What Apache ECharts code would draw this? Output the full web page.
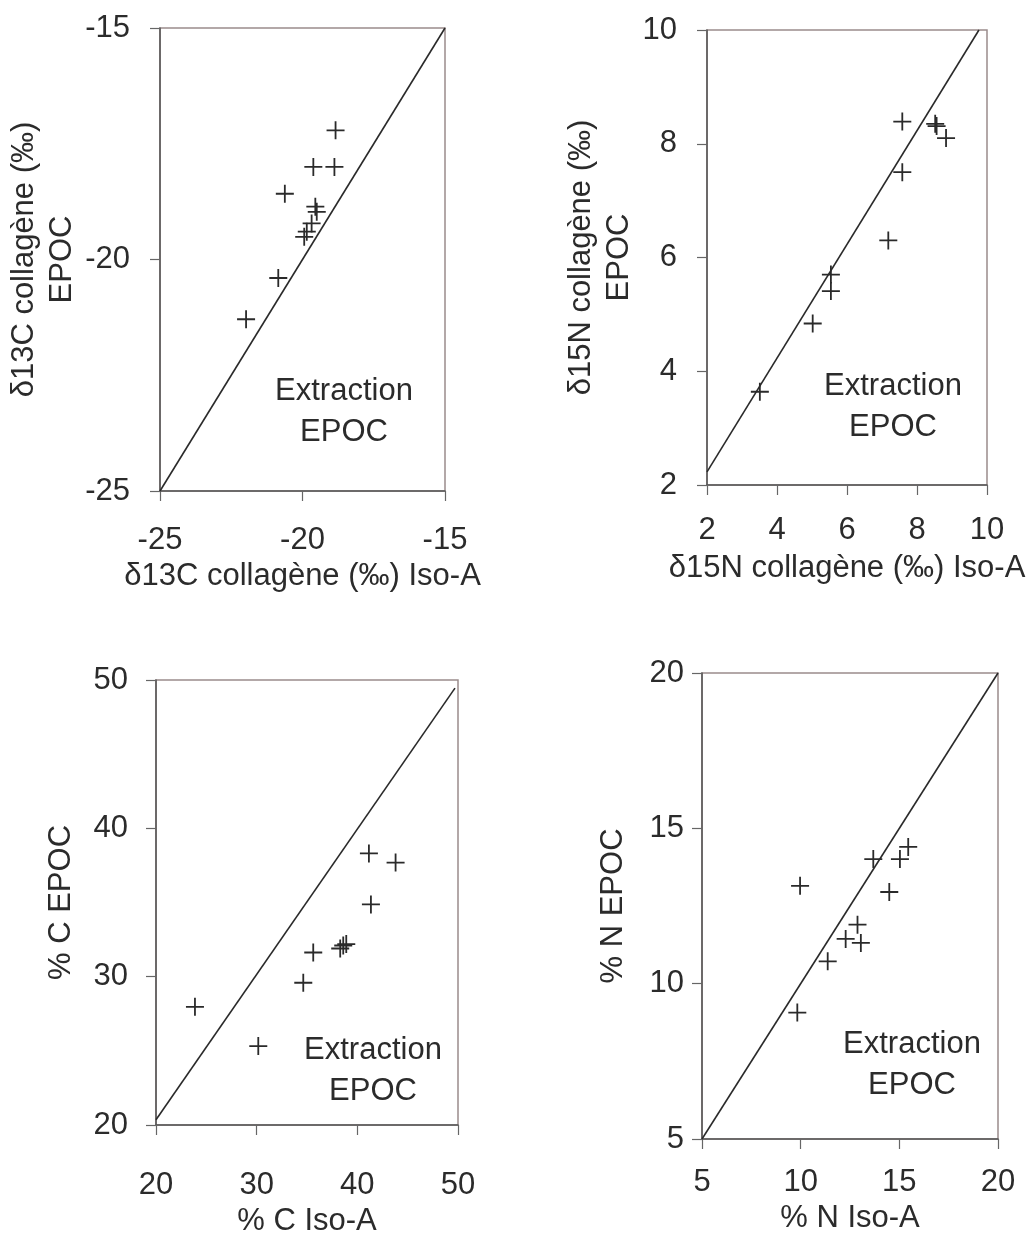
<!DOCTYPE html>
<html>
<head>
<meta charset="utf-8">
<script src="https://cdn.jsdelivr.net/npm/echarts@6/dist/echarts.min.js"></script>
<style>
html,body{margin:0;padding:0;background:#fff;}
#chart{width:1032px;height:1241px;}
</style>
</head>
<body>
<div id="chart"></div>
<script>
// ---------- DATA ----------
// Panel 1 : δ13C (‰)
var d13C_ticks = [-25, -20, -15];
var d13C_isoA = [-18.84, -19.62, -18.88, -20.62, -19.55, -19.50, -19.68, -19.85, -19.94, -20.85, -21.98];
var d13C_epoc = [-17.21, -18.00, -18.00, -18.58, -18.86, -18.97, -19.22, -19.40, -19.51, -20.40, -21.29];
var d13C_line = [[-25, -25], [-15, -15]];

// Panel 2 : δ15N (‰)
var d15N_ticks = [2, 4, 6, 8, 10];
var d15N_isoA = [7.58, 8.52, 8.56, 8.83, 7.58, 7.18, 5.54, 5.54, 5.02, 3.51];
var d15N_epoc = [8.39, 8.35, 8.31, 8.10, 7.50, 6.30, 5.70, 5.41, 4.84, 3.64];
var d15N_line = [[2, 2.23], [9.77, 10]];

// Panel 3 : % C
var pctC_ticks = [20, 30, 40, 50];
var pctC_isoA = [23.87, 30.16, 34.63, 35.62, 38.3, 38.6, 38.9, 41.15, 43.8, 41.35];
var pctC_epoc = [27.97, 25.32, 29.59, 31.63, 31.9, 32.1, 32.2, 38.31, 37.69, 34.87];
var pctC_line = [[20, 20.35], [49.7, 49.45]];

// Panel 4 : % N
var pctN_ticks = [5, 10, 15, 20];
var pctN_isoA = [9.97, 9.83, 11.37, 12.28, 12.88, 13.05, 13.68, 14.49, 15.03, 15.45];
var pctN_epoc = [13.15, 9.07, 10.72, 11.44, 11.90, 11.31, 14.01, 12.95, 14.01, 14.40];
var pctN_line = [[5, 5], [20, 20]];

var xNames = ['δ13C collagène (‰) Iso-A', 'δ15N collagène (‰) Iso-A', '% C Iso-A', '% N Iso-A'];
var yNames = ['δ13C collagène (‰)\nEPOC', 'δ15N collagène (‰)\nEPOC', '% C EPOC', '% N EPOC'];
var annotation = 'Extraction\nEPOC';

// ---------- LAYOUT ----------
var FONT = '"Liberation Sans", Arial, Helvetica, sans-serif';
var FS = 31;
var TXT = '#2b2b2b';
var panels = [
  {ticks: d13C_ticks, xs: d13C_isoA, ys: d13C_epoc, line: d13C_line,
   grid: {left: 160, top: 28, width: 285, height: 463},
   xMargin: 34, yMargin: 30, xGap: 66, yGap: 70, ann: [344, 412]},
  {ticks: d15N_ticks, xs: d15N_isoA, ys: d15N_epoc, line: d15N_line,
   grid: {left: 707, top: 30, width: 280, height: 455},
   xMargin: 30, yMargin: 30, xGap: 64, yGap: 64, ann: [893, 407]},
  {ticks: pctC_ticks, xs: pctC_isoA, ys: pctC_epoc, line: pctC_line,
   grid: {left: 156, top: 680, width: 302, height: 457},
   xMargin: 45, yMargin: 28, xGap: 77, yGap: 76, ann: [373, 1071]},
  {ticks: pctN_ticks, xs: pctN_isoA, ys: pctN_epoc, line: pctN_line,
   grid: {left: 702, top: 673, width: 296, height: 466},
   xMargin: 28, yMargin: 18, xGap: 60, yGap: 70, ann: [912, 1065]}
];

var PLUS = 'path://M8.1,0H9.9V8.1H18V9.9H9.9V18H8.1V9.9H0V8.1H8.1Z';

var grids = [], xAxes = [], yAxes = [], series = [], graphics = [];
panels.forEach(function (p, i) {
  grids.push(Object.assign({show: true, borderColor: '#9a8c8c', borderWidth: 1.5, backgroundColor: '#fff'}, p.grid));
  var t = p.ticks;
  var interval = t[1] - t[0];
  var axisCommon = {
    min: t[0], max: t[t.length - 1], interval: interval,
    gridIndex: i,
    splitLine: {show: false},
    axisLine: {show: true, onZero: false, lineStyle: {color: '#555', width: 1.5}},
    axisTick: {show: true, inside: false, length: 10, lineStyle: {color: '#666', width: 1.2}},
    nameLocation: 'middle',
    nameTextStyle: {fontFamily: FONT, fontSize: FS, color: TXT, lineHeight: 38}
  };
  xAxes.push(Object.assign({}, axisCommon, {
    type: 'value', position: 'bottom',
    name: xNames[i], nameGap: p.xGap,
    axisLabel: {margin: p.xMargin, fontFamily: FONT, fontSize: FS, color: TXT}
  }));
  yAxes.push(Object.assign({}, axisCommon, {
    type: 'value', position: 'left',
    name: yNames[i], nameGap: p.yGap, nameRotate: 90,
    axisLabel: {margin: p.yMargin, fontFamily: FONT, fontSize: FS, color: TXT}
  }));
  series.push({
    type: 'line', xAxisIndex: i, yAxisIndex: i,
    data: p.line, symbol: 'none', silent: true,
    lineStyle: {color: '#2a2a2a', width: 1.6},
    clip: false
  });
  series.push({
    type: 'scatter', xAxisIndex: i, yAxisIndex: i,
    data: p.xs.map(function (x, k) { return [x, p.ys[k]]; }),
    symbol: PLUS, symbolSize: 18,
    itemStyle: {color: '#2a2a2a', opacity: 1}
  });
  graphics.push({
    type: 'text', x: p.ann[0], y: p.ann[1], z: 100,
    style: {text: annotation, align: 'center', verticalAlign: 'middle',
            font: FS + 'px ' + FONT, fill: TXT, lineHeight: 41}
  });
});

var chart = echarts.init(document.getElementById('chart'), null, {renderer: 'canvas'});
chart.setOption({
  animation: false,
  backgroundColor: '#fff',
  grid: grids,
  xAxis: xAxes,
  yAxis: yAxes,
  series: series,
  graphic: graphics
});
</script>
</body>
</html>
